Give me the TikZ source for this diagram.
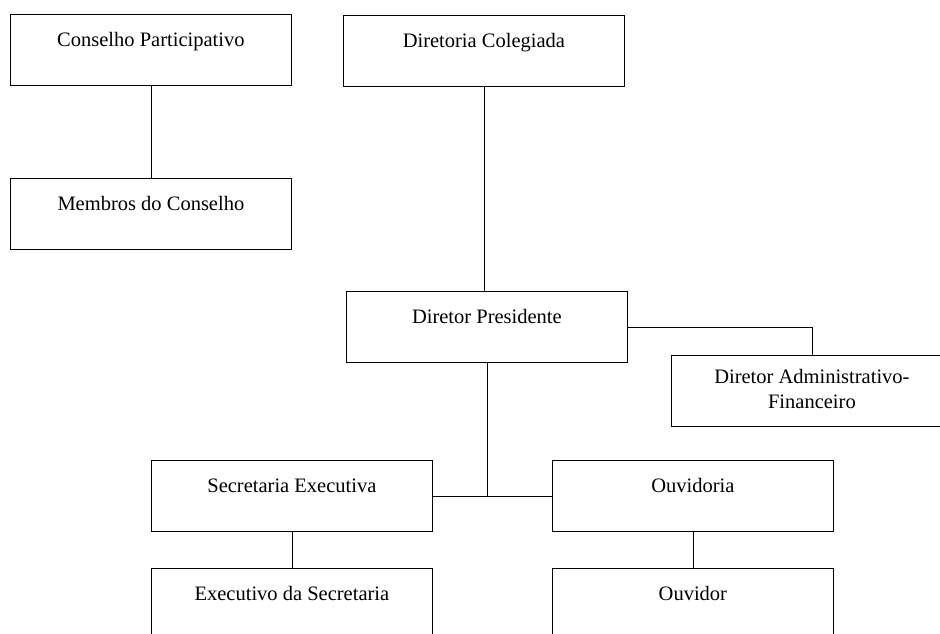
\documentclass[tikz,border=0pt]{standalone}
\usepackage{fontspec}
\setmainfont{Liberation Serif}
\usetikzlibrary{positioning}

\begin{document}
\begin{tikzpicture}
[-,x=1pt,y=-1pt,%
  every node/.style={draw,line width=0.8pt,inner sep=0pt,anchor=north west,%
    minimum width=281pt,text height=32pt,text depth=39pt,%
    font=\fontsize{20.5}{25}\selectfont},%
  line width=0.8pt]
\clip (0,0) rectangle (940,633);
\node (cp) at (10,14) {Conselho Participativo};
\node (mc) at (10,178) {Membros do Conselho};
%%
\node (dc) at (343,15) {Diretoria Colegiada};
\node (dp) at (346,291) {Diretor Presidente};
\node[align=center,text height=53pt,text depth=18pt] (daf) at (671,355)
  {Diretor Administrativo-\\Financeiro};
%%
\node (se) at (151,460) {Secretaria Executiva};
\node (ov) at (552,460) {Ouvidoria};
\node (es) at (151,568) {Executivo da Secretaria};
\node (od) at (552,568) {Ouvidor};
\coordinate (jn) at (dp.south |- se.east);
\draw (dc.south) -- (dc.south |- dp.north);
\draw (dp.east) -| (daf.north);
\draw (dp.south) -- (jn);
\path
\foreach \startNode/\endNode in {cp/mc, se/es, ov/od}
{
  (\startNode.south) edge (\endNode.north)
};
\draw (se.east) -- (ov.west);
\end{tikzpicture}
\end{document}
